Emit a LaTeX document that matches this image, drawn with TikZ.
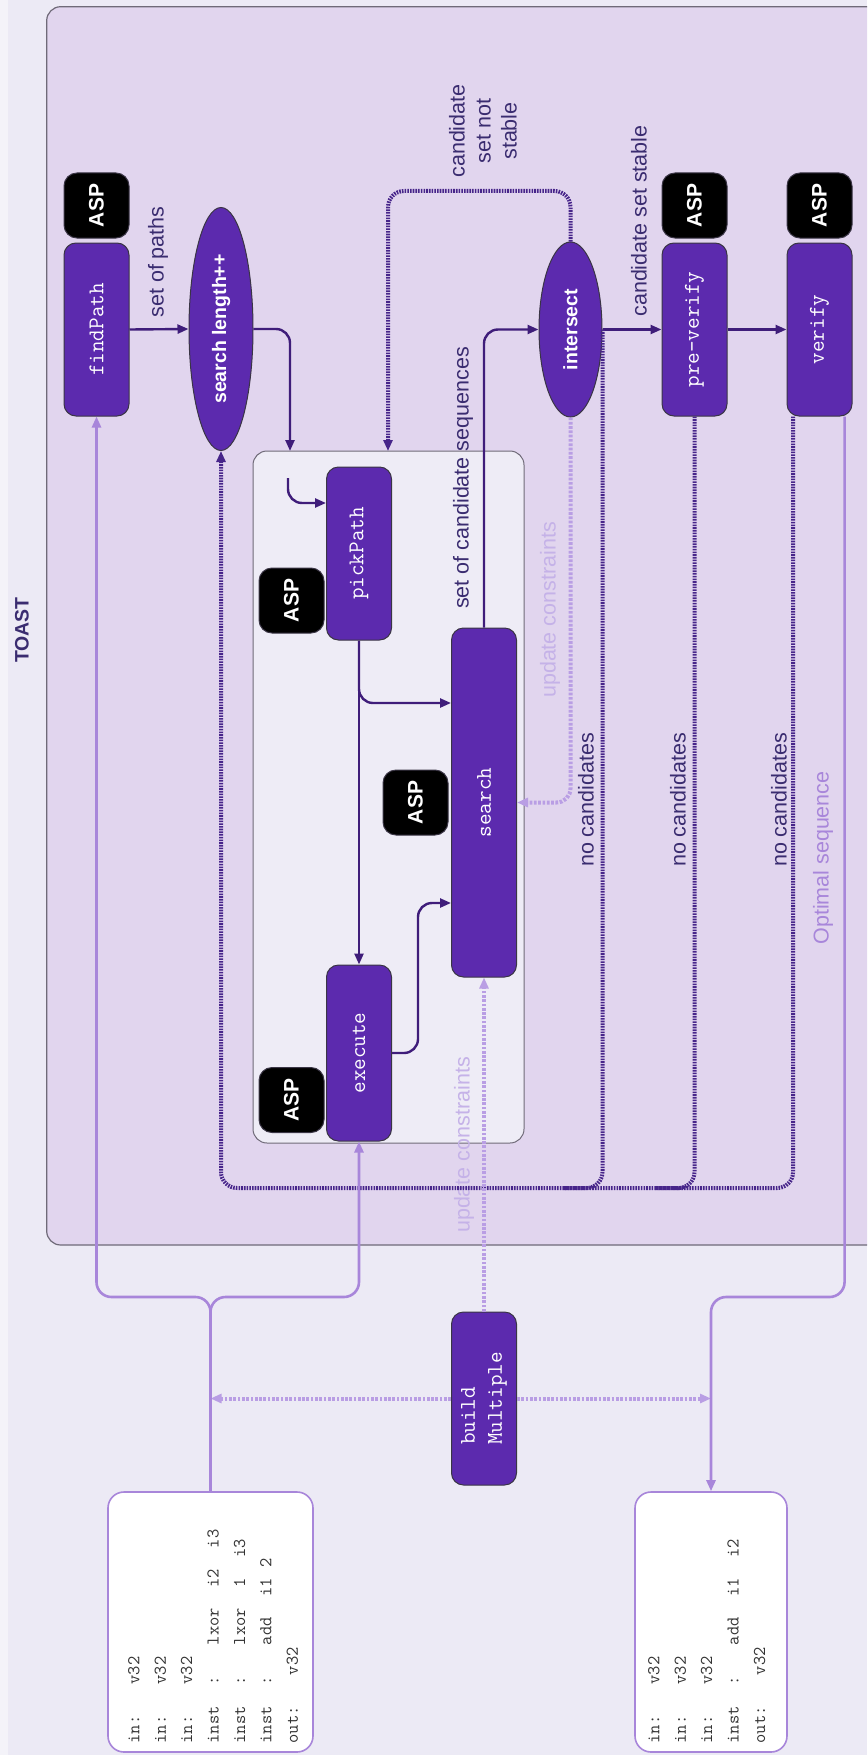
\documentclass[tikz,border=0pt]{standalone}
\usepackage{fontspec}
\setmainfont{Liberation Sans}
\usetikzlibrary{shapes.geometric,arrows.meta,calc}
\definecolor{bgc}{HTML}{ECEAF5}
\definecolor{stripc}{HTML}{F4F3F9}
\definecolor{toastc}{HTML}{E1D5EE}
\definecolor{innerc}{HTML}{EEECF6}
\definecolor{nodec}{HTML}{5C2AAE}
\definecolor{edgec}{HTML}{3A3545}
\definecolor{darkc}{HTML}{3F1D7A}
\definecolor{dotc}{HTML}{47258A}
\definecolor{labc}{HTML}{3A2C70}
\definecolor{lavc}{HTML}{A886DA}
\definecolor{ltc}{HTML}{B99EE4}
\definecolor{ltlabc}{HTML}{C5B2E8}
\definecolor{boxgray}{HTML}{6F6A78}
\definecolor{codec}{HTML}{333333}
\newcommand\cs{\hspace*{10.35pt}}
\newcommand\procfont{\ttfamily\fontsize{22.5}{27}\selectfont\addfontfeatures{LetterSpace=4.8}}
\newcommand\codefont{\ttfamily\fontsize{18}{26.4}\selectfont\addfontfeatures{LetterSpace=5}}
\begin{document}
\begin{tikzpicture}[x=1pt,y=-1pt,
  proc/.style={rotate=90, draw=edgec, line width=1pt, fill=nodec, rounded corners=12pt, text=white,
    font=\procfont, minimum height=65pt, inner sep=0pt},
  asp/.style={rotate=90, draw=edgec, line width=1pt, fill=black, rounded corners=13pt, text=white,
    font=\bfseries\fontsize{21}{25}\selectfont, minimum width=65pt, minimum height=65pt, inner sep=0pt},
  oval/.style={rotate=90, ellipse, draw=edgec, line width=1pt, fill=nodec, text=white,
    font=\bfseries\fontsize{19.5}{23}\selectfont, inner sep=0pt},
  lab/.style={rotate=90, text=labc, font=\fontsize{21.5}{26}\selectfont, inner sep=0pt},
  ltlab/.style={rotate=90, text=ltlabc, font=\fontsize{21.5}{26}\selectfont, inner sep=0pt},
  codebox/.style={rotate=90, draw=lavc, line width=1.6pt, fill=white, rounded corners=16pt, inner sep=0pt},
  codetext/.style={rotate=90, anchor=north west, align=left, text=codec, inner sep=0pt, font=\codefont},
  darr/.style={draw=darkc, line width=2.4pt, rounded corners=14pt, -{Triangle[length=11pt,width=9pt]}},
  ddot/.style={draw=dotc, line width=4pt, dash pattern=on 1.6pt off 1.1pt, rounded corners=16pt},
  ddarr/.style={ddot, -{Triangle[length=11pt,width=9pt]}},
  lav/.style={draw=lavc, line width=2.6pt, rounded corners=15pt},
  lavarr/.style={lav, -{Triangle[length=11pt,width=9pt]}},
  ldot/.style={draw=ltc, line width=4pt, dash pattern=on 2.7pt off 1.6pt, rounded corners=14pt},
  ldarr/.style={ldot, -{Triangle[length=11pt,width=9pt]}}
]
\useasboundingbox (0,0) rectangle (867,1755);
\clip (0,0) rectangle (867,1755);
\fill[bgc] (0,0) rectangle (867,1755);
\fill[stripc] (0,0) rectangle (8,1755);
% TOAST container
\draw[fill=toastc, draw=boxgray, line width=1.2pt, rounded corners=14pt] (46.7,6.7) rectangle (900,1245);
\node[rotate=90, text=labc, font=\bfseries\fontsize{19.5}{23}\selectfont, inner sep=0pt] (toast) at (22,630) {TOAST};
% inner loop box
\node[rotate=90, draw=boxgray, line width=1pt, fill=innerc, rounded corners=14pt,
  minimum width=692pt, minimum height=271pt, inner sep=0pt] (inner) at (388.5,797) {};

% top row
\node[asp] (aspF) at (96.5,205.5) {ASP};
\node[proc, minimum width=173pt] (findPath) at (96.5,329.5) {findPath};
\node[oval, minimum width=243pt, minimum height=64pt] (sl) at (221,329) {search length++};
\node[oval, minimum width=175pt, minimum height=63pt] (intersect) at (570.5,329.5) {intersect};
\node[asp] (aspPV) at (694.5,205.5) {ASP};
\node[proc, minimum width=173pt] (preverify) at (694.5,329.5) {pre-verify};
\node[asp] (aspV) at (819.5,205.5) {ASP};
\node[proc, minimum width=173pt] (verify) at (819.5,329.5) {verify};

% inner nodes
\node[asp] (aspPP) at (291.5,600.5) {ASP};
\node[proc, minimum width=173pt] (pickPath) at (359,553.5) {pickPath};
\node[asp] (aspS) at (415.5,802.5) {ASP};
\node[proc, minimum width=349pt] (search) at (484,802.5) {search};
\node[asp] (aspE) at (291.5,1100) {ASP};
\node[proc, minimum width=176pt] (execute) at (359,1053) {execute};

% bottom
\node[proc, minimum width=173pt, align=left] (build) at (484,1398.5) {build\\Multiple};
\node[codebox, minimum width=260pt, minimum height=205pt] (inbox) at (210.5,1622) {};
\node[codebox, minimum width=260pt, minimum height=152pt] (outbox) at (711,1622) {};
\node[codetext] (intext) at (128,1743.5) {in:\cs\cs\cs v32\\in:\cs\cs\cs v32\\in:\cs\cs\cs v32\\inst\cs\cs:\cs\cs\cs lxor\cs\cs i2\cs\cs i3\\inst\cs\cs:\cs\cs\cs lxor\cs\cs 1\cs\cs i3\\inst\cs\cs:\cs\cs\cs add\cs\cs i1\cs 2\\out:\cs\cs\cs v32};
\node[codetext] (outtext) at (648,1743.5) {in:\cs\cs\cs v32\\in:\cs\cs\cs v32\\in:\cs\cs\cs v32\\inst\cs\cs:\cs\cs\cs add\cs\cs i1\cs\cs i2\\out:\cs\cs\cs v32};

% labels
\node[lab] (lpaths) at (158,262) {set of paths};
\node[lab, align=center] (lnotstable) at (483,131) {candidate\\set not\\stable};
\node[lab] (lcandseq) at (463,478) {set of candidate sequences};
\node[lab] (lstable) at (639,221) {candidate set stable};
\node[ltlab] (lupd1) at (550,610) {update constraints};
\node[ltlab] (lupd2) at (464,1145) {update constraints};
\node[lab] (lnc1) at (586,800) {no candidates};
\node[lab] (lnc2) at (678,800) {no candidates};
\node[lab] (lnc3) at (779,800) {no candidates};
\node[rotate=90, text=lavc, font=\fontsize{21.5}{26}\selectfont, inner sep=0pt] (lopt) at (823,858) {Optimal sequence};

% helper coordinates
\coordinate (k1) at (290,451);
\coordinate (k2) at (388,191);
\coordinate (k3) at (388,451);
\coordinate (k4) at (288,478);
\coordinate (k5) at (326,503);
\coordinate (k6) at (0,703);
\coordinate (k7) at (418,903);
\coordinate (kb) at (0,1188);
\coordinate (ko) at (0,1297);
\coordinate (vL) at ($(verify.north west)!0.1!(verify.south west)$);
\coordinate (vR) at ($(verify.north west)!0.88!(verify.south west)$);

% dark solid arrows
\draw[darr] (findPath.south) -- (sl.north);
\draw[darr] (sl.south) -| (k1);
\draw[darr] (search.east) |- (intersect.north);
\draw[darr] (intersect.south) -- (preverify.north);
\draw[darr] (preverify.south) -- (verify.north);
\draw[darr] (k4) |- (k5);
\draw[darr] (pickPath.west) -- (execute.east);
\draw[darr] (pickPath.west) |- (search.north |- k6);
\draw[darr] (execute.south) -| (k7) -- (search.north |- k7);

% dark dotted
\draw[ddarr] (intersect.east) |- (k2) -- (k3);
\draw[ddarr] (vL) |- (sl.west |- kb) -- (sl.west);
\draw[ddot] (preverify.west) |- ($(preverify.west |- kb)+(-40,0)$);
\draw[ddot] (intersect.south) |- ($(intersect.south |- kb)+(-40,0)$);

% light dotted
\draw[ldarr] (intersect.west) |- (search.south);
\draw[ldarr] (build.east) -- (search.west);
\draw[ldarr] (build.north) -- (inbox.east |- build.north);
\draw[ldarr] (build.south) -- (outbox.east |- build.south);

% lavender solid
\draw[lavarr] (inbox.east) |- (findPath.west |- ko) -- (findPath.west);
\draw[lavarr] (inbox.east) |- (execute.west |- ko) -- (execute.west);
\draw[lavarr] (vR) |- (outbox.east |- ko) -- (outbox.east);
\end{tikzpicture}
\end{document}
